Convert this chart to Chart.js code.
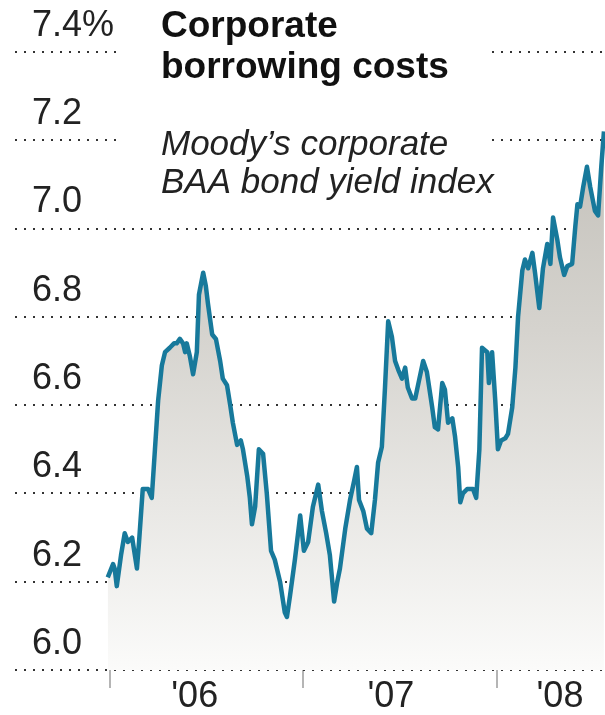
<!DOCTYPE html>
<html>
<head>
<meta charset="utf-8">
<script src="https://cdn.jsdelivr.net/npm/chart.js@4.4.0/dist/chart.umd.min.js"></script>
<style>
  html, body { margin: 0; padding: 0; background: #fff; }
</style>
</head>
<body>
<canvas id="myChart" width="605" height="715"></canvas>
<script>
// Moody's BAA corporate bond yield, weekly-ish readings
const dates = [
  '2005-12-28','2006-01-07','2006-01-10','2006-01-14','2006-01-22','2006-01-29','2006-02-04','2006-02-12','2006-02-21','2006-02-25',
  '2006-03-04','2006-03-14','2006-03-21','2006-03-27','2006-04-02','2006-04-09','2006-04-15','2006-04-24','2006-05-02','2006-05-07',
  '2006-05-13','2006-05-19','2006-05-23','2006-05-26','2006-06-01','2006-06-07','2006-06-14','2006-06-18','2006-06-26','2006-07-01',
  '2006-07-05','2006-07-13','2006-07-20','2006-07-28','2006-08-02','2006-08-10','2006-08-16','2006-08-21','2006-08-29','2006-09-05',
  '2006-09-09','2006-09-17','2006-09-22','2006-09-26','2006-10-02','2006-10-09','2006-10-17','2006-10-24','2006-11-01','2006-11-08',
  '2006-11-18','2006-11-27','2006-12-01','2006-12-07','2006-12-16','2006-12-26','2007-01-02','2007-01-10','2007-01-19','2007-01-29',
  '2007-02-05','2007-02-13','2007-02-20','2007-02-28','2007-03-06','2007-03-11','2007-03-21','2007-03-30','2007-04-07','2007-04-12',
  '2007-04-16','2007-04-24','2007-05-01','2007-05-09','2007-05-16','2007-05-22','2007-05-29','2007-06-04','2007-06-10','2007-06-17',
  '2007-06-23','2007-06-29','2007-07-06','2007-07-12','2007-07-17','2007-07-25','2007-07-31','2007-08-07','2007-08-15','2007-08-22',
  '2007-09-01','2007-09-06','2007-09-12','2007-09-20','2007-09-25','2007-10-01','2007-10-09','2007-10-14','2007-10-20','2007-10-24',
  '2007-10-29','2007-11-06','2007-11-12','2007-11-17','2007-11-23','2007-11-29','2007-12-04','2007-12-14','2007-12-17','2007-12-23',
  '2007-12-29','2008-01-03','2008-01-09','2008-01-17','2008-01-22','2008-01-30','2008-02-05','2008-02-10','2008-02-18','2008-02-23',
  '2008-02-29','2008-03-08','2008-03-13','2008-03-21','2008-03-28','2008-04-05','2008-04-11','2008-04-16','2008-04-24','2008-04-29',
  '2008-05-07','2008-05-13','2008-05-22','2008-05-28','2008-06-01','2008-06-06','2008-06-12','2008-06-19','2008-06-25','2008-07-04',
  '2008-07-10','2008-07-16','2008-07-21'
]
const yields = [
  6.21, 6.24, 6.23, 6.19, 6.26, 6.31, 6.29, 6.30, 6.23, 6.29,
  6.41, 6.41, 6.39, 6.50, 6.61, 6.69, 6.72, 6.73, 6.74, 6.74,
  6.75, 6.74, 6.72, 6.74, 6.71, 6.67, 6.72, 6.85, 6.90, 6.87,
  6.83, 6.76, 6.75, 6.70, 6.66, 6.645, 6.60, 6.56, 6.51, 6.52,
  6.50, 6.44, 6.39, 6.33, 6.37, 6.50, 6.49, 6.40, 6.27, 6.25,
  6.20, 6.13, 6.12, 6.17, 6.25, 6.35, 6.27, 6.29, 6.37, 6.42,
  6.36, 6.31, 6.26, 6.155, 6.20, 6.23, 6.32, 6.385, 6.43, 6.46,
  6.385, 6.36, 6.32, 6.31, 6.385, 6.47, 6.505, 6.64, 6.79, 6.755,
  6.70, 6.68, 6.66, 6.685, 6.64, 6.615, 6.615, 6.655, 6.70, 6.675,
  6.595, 6.55, 6.545, 6.65, 6.635, 6.56, 6.57, 6.53, 6.46, 6.38,
  6.40, 6.41, 6.41, 6.41, 6.39, 6.50, 6.73, 6.72, 6.65, 6.72,
  6.61, 6.50, 6.52, 6.525, 6.535, 6.595, 6.685, 6.80, 6.905, 6.93,
  6.91, 6.945, 6.90, 6.82, 6.91, 6.965, 6.92, 7.025, 6.975, 6.935,
  6.895, 6.915, 6.92, 7.005, 7.055, 7.05, 7.095, 7.14, 7.095, 7.04,
  7.03, 7.14, 7.22
]

const yTicks = [6.0, 6.2, 6.4, 6.6, 6.8, 7.0, 7.2, 7.4]
const yearStarts = ['2006-01-01', '2007-01-01', '2008-01-01']
const yearNames = ["'06", "'07", "'08"]
const yearLabelDates = ['2006-06-10', '2007-06-15', '2008-04-29']
const rangeStart = '2005-07-06'
const rangeEnd = '2008-07-23'

const titleLines = ['Corporate', 'borrowing costs']
const noteLines = ['Moody\u2019s corporate', 'BAA bond yield index']

const FONT = "'Liberation Sans', Arial, Helvetica, sans-serif"

// days since Jan 1 2006
const day0 = Date.UTC(2006, 0, 1)
const toDays = (s) => {
    const [y, m, d] = s.split('-').map(Number)
    return (Date.UTC(y, m - 1, d) - day0) / 86400000
}

const boundaryDays = yearStarts.map(toDays)
const labelDays = yearLabelDates.map(toDays)

const titleBlock = {
    id: 'titleBlock',
    beforeDatasetsDraw(chart) {
        const c = chart.ctx
        c.save()
        // knock the dotted lines out behind the heading
        c.fillStyle = '#fff'
        c.fillRect(122, 0, 368, 205)
        c.fillStyle = '#111'
        c.textBaseline = 'alphabetic'
        c.font = 'bold 37px ' + FONT
        titleLines.forEach((t, i) => c.fillText(t, 161, 37 + i * 41))
        c.fillStyle = '#222'
        c.font = 'italic 35px ' + FONT
        noteLines.forEach((t, i) => c.fillText(t, 161, 155 + i * 38))
        c.restore()
    }
}

const ctx = document.getElementById('myChart').getContext('2d')
const myChart = new Chart(ctx, {
    type: 'line',
    data: {
        datasets: [{
            data: dates.map((d, i) => ({ x: toDays(d), y: yields[i] })),
            borderColor: '#17799b',
            borderWidth: 4.5,
            borderJoinStyle: 'round',
            pointRadius: 0,
            tension: 0,
            fill: 'start',
            backgroundColor: (context) => {
                const area = context.chart.chartArea
                if (!area) return '#ddd'
                const g = context.chart.ctx.createLinearGradient(0, area.top, 0, area.bottom)
                g.addColorStop(0, '#bcb9b2')
                g.addColorStop(0.45, '#d5d3ce')
                g.addColorStop(1, '#fbfbfa')
                return g
            }
        }]
    },
    options: {
        responsive: false,
        animation: false,
        layout: { padding: { top: 52, left: 0, right: 0, bottom: 0 } },
        plugins: {
            legend: { display: false },
            tooltip: { enabled: false }
        },
        scales: {
            x: {
                type: 'linear',
                min: toDays(rangeStart),
                max: toDays(rangeEnd),
                afterFit: (axis) => { axis.height = 45 },
                afterBuildTicks: (axis) => {
                    axis.ticks = boundaryDays.concat(labelDays).sort((a, b) => a - b).map(v => ({ value: v }))
                },
                ticks: {
                    autoSkip: false,
                    maxRotation: 0,
                    padding: -13,
                    color: '#222',
                    font: { family: FONT, size: 36 },
                    callback: (v) => {
                        const i = labelDays.indexOf(v)
                        return i >= 0 ? yearNames[i] : ''
                    }
                },
                grid: {
                    drawOnChartArea: false,
                    tickLength: 18,
                    lineWidth: 2,
                    color: (c) => (c.tick && boundaryDays.includes(c.tick.value)) ? '#b5b5b5' : 'rgba(0,0,0,0)'
                },
                border: { display: false }
            },
            y: {
                min: 6.0,
                max: 7.4,
                afterFit: (axis) => { axis.width = 15 },
                afterBuildTicks: (axis) => {
                    axis.ticks = yTicks.map(v => ({ value: v }))
                },
                ticks: {
                    mirror: true,
                    padding: 17,
                    labelOffset: -26,
                    color: '#222',
                    font: { family: FONT, size: 36 },
                    callback: (v) => v === 7.4 ? '7.4%' : v.toFixed(1)
                },
                grid: {
                    drawTicks: false,
                    color: '#333',
                    lineWidth: 2
                },
                border: { display: false, dash: [2, 7] }
            }
        }
    },
    plugins: [titleBlock]
})
</script>
</body>
</html>
